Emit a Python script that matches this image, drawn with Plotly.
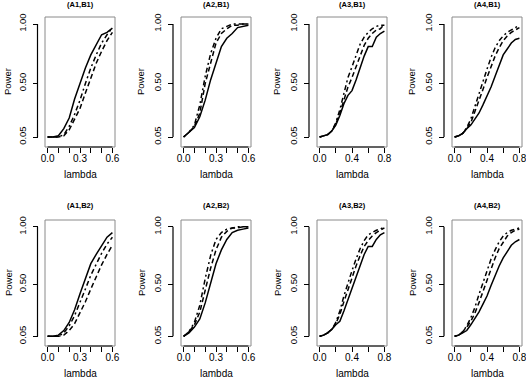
import plotly.graph_objects as go
from plotly.subplots import make_subplots

W, H = 526, 379

# lambda grids
lam_short = [0.0, 0.05, 0.1, 0.15, 0.2, 0.25, 0.3, 0.35, 0.4, 0.45, 0.5, 0.55, 0.6]
lam_long = [0.0, 0.05, 0.1, 0.15, 0.2, 0.25, 0.3, 0.35, 0.4, 0.45, 0.5, 0.55, 0.6,
            0.65, 0.7, 0.75, 0.8]

panel_titles = ["(A1,B1)", "(A2,B1)", "(A3,B1)", "(A4,B1)",
                "(A1,B2)", "(A2,B2)", "(A3,B2)", "(A4,B2)"]

# power curves: solid / dashed / dot-dash, one set per panel
a1b1_solid = [0.05, 0.05, 0.06, 0.12, 0.21, 0.37, 0.50, 0.63, 0.74, 0.82, 0.91, 0.93, 0.965]
a1b1_dash = [0.05, 0.05, 0.05, 0.06, 0.11, 0.20, 0.29, 0.42, 0.55, 0.67, 0.77, 0.86, 0.93]
a1b1_dotdash = [0.05, 0.05, 0.05, 0.07, 0.14, 0.24, 0.36, 0.50, 0.63, 0.74, 0.84, 0.91, 0.97]

a2b1_solid = [0.05, 0.09, 0.13, 0.22, 0.36, 0.53, 0.68, 0.81, 0.88, 0.92, 0.97, 0.98, 0.99]
a2b1_dash = [0.05, 0.09, 0.14, 0.25, 0.50, 0.68, 0.84, 0.92, 0.96, 0.99, 0.99, 1.00, 1.00]
a2b1_dotdash = [0.05, 0.09, 0.15, 0.32, 0.56, 0.75, 0.88, 0.96, 0.98, 1.00, 1.00, 1.00, 1.00]

a3b1_solid = [0.05, 0.06, 0.07, 0.10, 0.15, 0.23, 0.33, 0.40, 0.44, 0.53, 0.63, 0.73, 0.81,
              0.81, 0.89, 0.92, 0.94]
a3b1_dash = [0.05, 0.06, 0.07, 0.10, 0.16, 0.25, 0.36, 0.47, 0.55, 0.64, 0.73, 0.82, 0.88,
             0.92, 0.95, 0.96, 1.00]
a3b1_dotdash = [0.05, 0.06, 0.07, 0.10, 0.17, 0.28, 0.42, 0.55, 0.64, 0.74, 0.83, 0.89, 0.93,
                0.96, 0.98, 0.99, 0.99]

a4b1_solid = [0.05, 0.06, 0.08, 0.12, 0.15, 0.20, 0.25, 0.32, 0.39, 0.47, 0.56, 0.65, 0.74,
              0.79, 0.84, 0.87, 0.88]
a4b1_dash = [0.05, 0.06, 0.08, 0.12, 0.17, 0.26, 0.35, 0.45, 0.55, 0.64, 0.73, 0.80, 0.86,
             0.90, 0.93, 0.95, 0.97]
a4b1_dotdash = [0.05, 0.06, 0.08, 0.13, 0.20, 0.31, 0.42, 0.52, 0.62, 0.72, 0.80, 0.86, 0.90,
                0.93, 0.95, 0.97, 0.99]

a1b2_solid = [0.05, 0.05, 0.06, 0.10, 0.17, 0.28, 0.42, 0.56, 0.68, 0.76, 0.84, 0.91, 0.95]
a1b2_dash = [0.05, 0.05, 0.05, 0.06, 0.10, 0.16, 0.25, 0.35, 0.46, 0.57, 0.67, 0.76, 0.84]
a1b2_dotdash = [0.05, 0.05, 0.05, 0.08, 0.14, 0.23, 0.34, 0.46, 0.58, 0.68, 0.77, 0.85, 0.91]

a2b2_solid = [0.05, 0.08, 0.13, 0.20, 0.34, 0.52, 0.68, 0.80, 0.89, 0.95, 0.97, 0.98, 0.99]
a2b2_dash = [0.05, 0.09, 0.15, 0.26, 0.45, 0.64, 0.80, 0.91, 0.96, 0.99, 0.99, 1.00, 1.00]
a2b2_dotdash = [0.05, 0.09, 0.17, 0.32, 0.55, 0.75, 0.89, 0.95, 0.98, 0.99, 1.00, 1.00, 1.00]

a3b2_solid = [0.05, 0.06, 0.08, 0.11, 0.15, 0.18, 0.27, 0.37, 0.47, 0.57, 0.67, 0.76, 0.83,
              0.83, 0.89, 0.93, 0.95]
a3b2_dash = [0.05, 0.06, 0.08, 0.11, 0.16, 0.24, 0.35, 0.46, 0.56, 0.66, 0.75, 0.83, 0.88,
             0.92, 0.95, 0.97, 0.99]
a3b2_dotdash = [0.05, 0.06, 0.08, 0.11, 0.17, 0.27, 0.40, 0.52, 0.62, 0.72, 0.81, 0.88, 0.93,
                0.95, 0.97, 0.98, 1.00]

a4b2_solid = [0.05, 0.06, 0.08, 0.10, 0.15, 0.20, 0.26, 0.33, 0.40, 0.49, 0.58, 0.66, 0.73,
              0.79, 0.84, 0.87, 0.89]
a4b2_dash = [0.05, 0.06, 0.09, 0.13, 0.18, 0.25, 0.34, 0.44, 0.54, 0.64, 0.73, 0.81, 0.87,
             0.92, 0.95, 0.97, 0.98]
a4b2_dotdash = [0.05, 0.06, 0.09, 0.14, 0.21, 0.30, 0.41, 0.52, 0.62, 0.72, 0.80, 0.87, 0.92,
                0.95, 0.97, 0.98, 0.99]

panels = [
    (lam_short, a1b1_solid, a1b1_dash, a1b1_dotdash),
    (lam_short, a2b1_solid, a2b1_dash, a2b1_dotdash),
    (lam_long, a3b1_solid, a3b1_dash, a3b1_dotdash),
    (lam_long, a4b1_solid, a4b1_dash, a4b1_dotdash),
    (lam_short, a1b2_solid, a1b2_dash, a1b2_dotdash),
    (lam_short, a2b2_solid, a2b2_dash, a2b2_dotdash),
    (lam_long, a3b2_solid, a3b2_dash, a3b2_dotdash),
    (lam_long, a4b2_solid, a4b2_dash, a4b2_dotdash),
]

y_ticks = [0.05, 0.5, 1.0]
y_ticktext = ["0.05", "0.50", "1.00"]
x_ticks_short = [0.0, 0.1, 0.2, 0.3, 0.4, 0.5, 0.6]
x_text_short = ["0.0", "", "", "0.3", "", "", "0.6"]
x_ticks_long = [0.0, 0.2, 0.4, 0.6, 0.8]
x_text_long = ["0.0", "", "0.4", "", "0.8"]

# layout in pixels (box edges, y-axis line position)
box_left = [45, 181, 317, 452]
box_width = 70
yline_x = [37.5, 173, 309, 444]
row_top = [17, 220]
row_bottom = [147, 346]
title_y = [5, 205]
lambda_y = [175, 373]
power_x = [8, 141, 277, 412]

FONT = "Liberation Sans, Arial, Helvetica, sans-serif"
BOX_GREY = "#8a8a8a"


def px_x(p):
    return p / W


def px_y(p):
    return 1 - p / H


fig = make_subplots(rows=2, cols=4)

styles = [dict(dash="solid"), dict(dash="5px,3px"), dict(dash="2px,3px,5px,3px")]

for i, (lam, solid, dash, dotdash) in enumerate(panels):
    r, c = i // 4, i % 4
    for vals, st in zip([solid, dash, dotdash], styles):
        fig.add_trace(go.Scatter(x=lam, y=vals, mode="lines",
                                 line=dict(color="black", width=1.5, **st),
                                 showlegend=False, hoverinfo="skip"),
                      row=r + 1, col=c + 1)

    s = "" if i == 0 else str(i + 1)
    xmax = lam[-1]
    pad = 0.04 * xmax
    short = xmax < 0.7
    fig.layout["xaxis" + s].update(
        domain=[px_x(box_left[c]), px_x(box_left[c] + box_width)],
        range=[-pad, xmax + pad], automargin=False, ticklabeloverflow="allow",
        tickvals=x_ticks_short if short else x_ticks_long,
        ticktext=x_text_short if short else x_text_long,
        ticks="outside", ticklen=5, tickcolor="black", tickwidth=1,
        showgrid=False, zeroline=False, showline=False,
        tickfont=dict(family=FONT, size=10, color="black"),
    )
    fig.layout["yaxis" + s].update(
        domain=[px_y(row_bottom[r]), px_y(row_top[r])],
        range=[-0.034, 1.059], automargin=False, ticklabeloverflow="allow",
        anchor="free", position=px_x(yline_x[c]),
        tickvals=y_ticks, ticktext=y_ticktext, tickangle=-90,
        ticks="outside", ticklen=5, tickcolor="black", tickwidth=1,
        showgrid=False, zeroline=False, showline=False,
        tickfont=dict(family=FONT, size=9.5, color="black"),
    )

    # grey frame, black x axis line, detached y axis line
    fig.add_shape(type="rect", xref="x" + s + " domain", yref="y" + s + " domain",
                  x0=0, x1=1, y0=0, y1=1, line=dict(color=BOX_GREY, width=1))
    fig.add_shape(type="line", xref="x" + s, yref="y" + s + " domain",
                  x0=0, x1=xmax, y0=0, y1=0, line=dict(color="black", width=1))
    fig.add_shape(type="line", xref="paper", yref="y" + s,
                  x0=px_x(yline_x[c]), x1=px_x(yline_x[c]), y0=0.05, y1=1.0,
                  line=dict(color="black", width=1.2))

    mid_x = px_x(box_left[c] + box_width / 2)
    fig.add_annotation(text="<b>" + panel_titles[i] + "</b>", xref="paper", yref="paper",
                       x=mid_x, y=px_y(title_y[r]), xanchor="center", yanchor="middle",
                       showarrow=False, font=dict(family=FONT, size=7.5, color="black"))
    fig.add_annotation(text="lambda", xref="paper", yref="paper",
                       x=mid_x, y=px_y(lambda_y[r]), xanchor="center", yanchor="middle",
                       showarrow=False, font=dict(family=FONT, size=10, color="black"))
    fig.add_annotation(text="Power", xref="paper", yref="paper", textangle=-90,
                       x=px_x(power_x[c]), y=px_y((row_top[r] + row_bottom[r]) / 2),
                       xanchor="center", yanchor="middle",
                       showarrow=False, font=dict(family=FONT, size=9.5, color="black"))

# pull x tick labels a little closer to the axis, like R does
try:
    fig.update_xaxes(ticklabelstandoff=-3)
    fig.update_yaxes(ticklabelstandoff=3)
except ValueError:
    pass

fig.update_layout(
    width=W, height=H,
    margin=dict(l=0, r=0, t=0, b=0, autoexpand=False),
    paper_bgcolor="white", plot_bgcolor="white",
    showlegend=False,
)

fig.write_html("out.html", config={"displayModeBar": False},
               post_script="document.body.style.margin='0';")
